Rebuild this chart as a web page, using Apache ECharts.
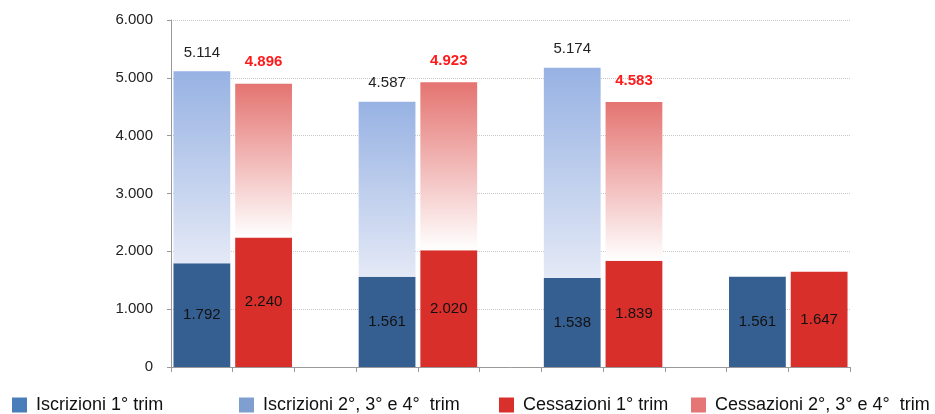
<!DOCTYPE html>
<html><head><meta charset="utf-8">
<script src="https://cdn.jsdelivr.net/npm/echarts@6/dist/echarts.min.js"></script>
<style>html,body{margin:0;padding:0;background:#fff}#c{width:935px;height:414px}</style>
</head><body><div id="c"></div>
<script>
var seriesNames = ['Iscrizioni 1° trim', 'Iscrizioni 2°, 3° e 4°  trim', 'Cessazioni 1° trim', 'Cessazioni 2°, 3° e 4°  trim'];
var iscr1 = [1792, 1561, 1538, 1561];
var iscrTot = [5114, 4587, 5174, null];
var cess1 = [2240, 2020, 1839, 1647];
var cessTot = [4896, 4923, 4583, null];
var yTicks = [0, 1000, 2000, 3000, 4000, 5000, 6000];

var slots = 11;
var cats = [];
for (var i = 0; i < slots; i++) cats.push('');
function slotArr(vals, offset) {
  var a = [];
  for (var i = 0; i < slots; i++) a.push(null);
  vals.forEach(function (v, g) { a[g * 3 + offset] = v; });
  return a;
}
var iscrRest = iscrTot.map(function (t, g) { return t == null ? null : t - iscr1[g]; });
var cessRest = cessTot.map(function (t, g) { return t == null ? null : t - cess1[g]; });
function fmt(v) { return String(v).replace(/\B(?=(\d{3})+(?!\d))/g, '.'); }
function totFor(arr, off) {
  return function (p) { var g = (p.dataIndex - off) / 3; return arr[g] == null ? '' : fmt(arr[g]); };
}
var font = 'Liberation Sans, Arial, sans-serif';
var legendColors = ['#4a7ebb', '#7f9fd0', '#d9302c', '#e57676'];
var legendLefts = [12, 239, 499, 691];
var chart = echarts.init(document.getElementById('c'));
chart.setOption({
  animation: false,
  textStyle: { fontFamily: font },
  grid: { left: 171, right: 85, top: 20, bottom: 47 },
  legend: seriesNames.map(function (n, i) {
    return {
      left: legendLefts[i], top: 396, padding: 0, itemWidth: 15, itemHeight: 15, icon: 'rect',
      selectedMode: false,
      textStyle: { fontSize: 18, color: '#111', fontFamily: font, padding: [0, 0, 0, 4] },
      data: [{ name: n, itemStyle: { color: legendColors[i] } }]
    };
  }),
  xAxis: {
    type: 'category', data: cats,
    axisLine: { lineStyle: { color: '#999' } },
    axisTick: { show: true, length: 5, lineStyle: { color: '#999' }, alignWithLabel: false },
    axisLabel: { show: false }
  },
  yAxis: {
    type: 'value', min: 0, max: 6000, interval: 1000,
    axisLine: { show: true, lineStyle: { color: '#999' } },
    axisTick: { show: true, length: 4, lineStyle: { color: '#999' } },
    axisLabel: { fontSize: 15, color: '#222', margin: 18, formatter: function (v) { return yTicks.indexOf(v) >= 0 ? fmt(v) : ''; } },
    splitLine: { lineStyle: { color: '#c8c8c8', type: 'dotted' } }
  },
  series: [
    {
      name: seriesNames[0], type: 'bar', stack: 's', barWidth: '92%',
      data: slotArr(iscr1, 0),
      itemStyle: { color: '#365f91' },
      label: { show: true, position: 'inside', color: '#111', fontSize: 15, formatter: function (p) { return fmt(p.value); } }
    },
    {
      name: seriesNames[1], type: 'bar', stack: 's', barWidth: '92%',
      data: slotArr(iscrRest, 0),
      itemStyle: { color: new echarts.graphic.LinearGradient(0, 0, 0, 1, [{ offset: 0, color: '#97b2e3' }, { offset: 1, color: '#e4e9f6' }]) },
      label: { show: true, position: 'top', distance: 11, color: '#222', fontSize: 15, formatter: totFor(iscrTot, 0) }
    },
    {
      name: seriesNames[2], type: 'bar', stack: 's', barWidth: '92%',
      data: slotArr(cess1, 1),
      itemStyle: { color: '#d92f2a' },
      label: { show: true, position: 'inside', color: '#111', fontSize: 15, formatter: function (p) { return fmt(p.value); } }
    },
    {
      name: seriesNames[3], type: 'bar', stack: 's', barWidth: '92%',
      data: slotArr(cessRest, 1),
      itemStyle: { color: new echarts.graphic.LinearGradient(0, 0, 0, 1, [{ offset: 0, color: '#e47471' }, { offset: 1, color: '#ffffff' }]) },
      label: { show: true, position: 'top', distance: 14, color: '#ff1a1a', fontWeight: 'bold', fontSize: 15, formatter: totFor(cessTot, 1) }
    }
  ]
});
</script></body></html>
